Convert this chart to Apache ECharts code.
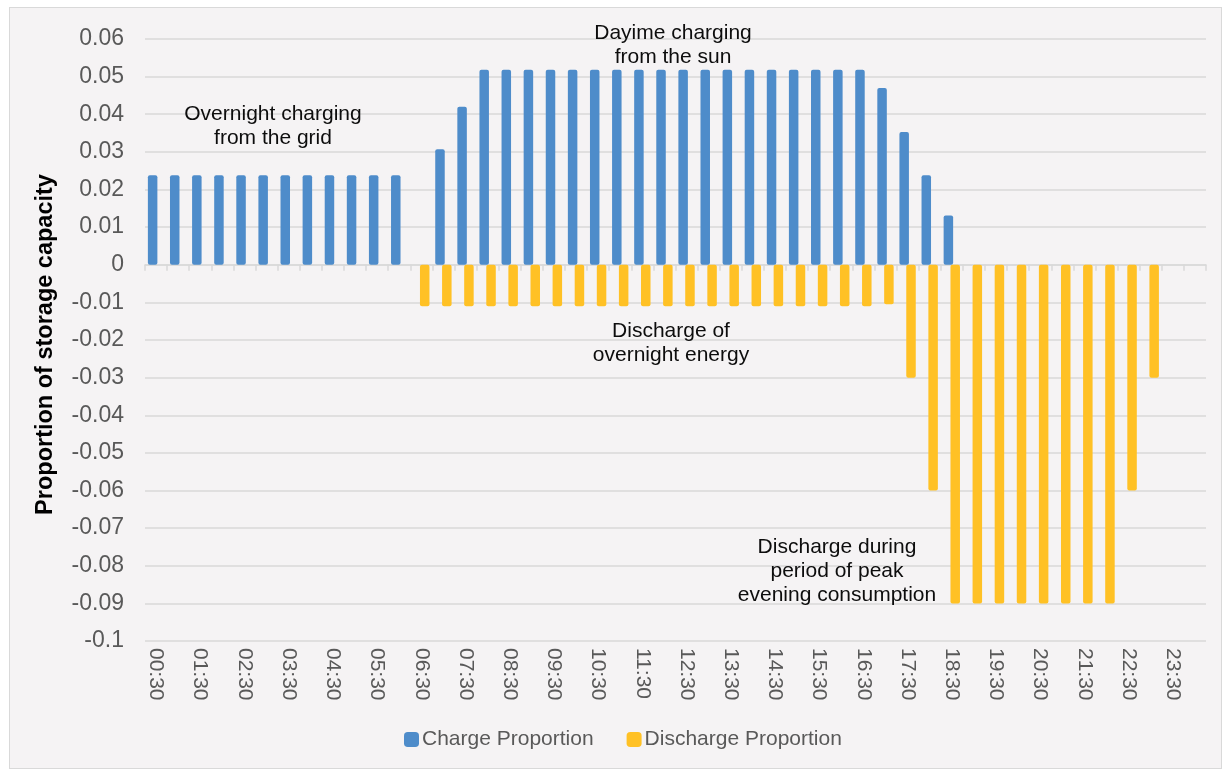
<!DOCTYPE html>
<html>
<head>
<meta charset="utf-8">
<script src="https://cdn.jsdelivr.net/npm/echarts@6/dist/echarts.min.js"></script>
<style>
  html, body { margin: 0; padding: 0; background: #ffffff; }
  #frame {
    position: absolute; left: 9px; top: 7px; width: 1211px; height: 760px;
    border: 1px solid #d9d9d9; background: #f5f3f4;
  }
  #chart { position: absolute; left: 0; top: 0; width: 1228px; height: 771px; }
</style>
</head>
<body>
<div id="frame"></div>
<div id="chart"></div>
<script>
// half-hour slots, 00:30 ... 24:00
const times = [
  "00:30", "01:00", "01:30", "02:00", "02:30", "03:00", "03:30", "04:00",
  "04:30", "05:00", "05:30", "06:00", "06:30", "07:00", "07:30", "08:00",
  "08:30", "09:00", "09:30", "10:00", "10:30", "11:00", "11:30", "12:00",
  "12:30", "13:00", "13:30", "14:00", "14:30", "15:00", "15:30", "16:00",
  "16:30", "17:00", "17:30", "18:00", "18:30", "19:00", "19:30", "20:00",
  "20:30", "21:00", "21:30", "22:00", "22:30", "23:00", "23:30", "24:00"
];

const chargeProportion = [
  0.0238, 0.0238, 0.0238, 0.0238, 0.0238, 0.0238, 0.0238, 0.0238,
  0.0238, 0.0238, 0.0238, 0.0238, 0, 0.0307, 0.042, 0.0518,
  0.0518, 0.0518, 0.0518, 0.0518, 0.0518, 0.0518, 0.0518, 0.0518,
  0.0518, 0.0518, 0.0518, 0.0518, 0.0518, 0.0518, 0.0518, 0.0518,
  0.0518, 0.047, 0.0353, 0.0238, 0.0131, 0, 0, 0,
  0, 0, 0, 0, 0, 0, 0, 0
];

const dischargeProportion = [
  0, 0, 0, 0, 0, 0, 0, 0,
  0, 0, 0, 0, -0.011, -0.011, -0.011, -0.011,
  -0.011, -0.011, -0.011, -0.011, -0.011, -0.011, -0.011, -0.011,
  -0.011, -0.011, -0.011, -0.011, -0.011, -0.011, -0.011, -0.011,
  -0.011, -0.0105, -0.03, -0.06, -0.09, -0.09, -0.09, -0.09,
  -0.09, -0.09, -0.09, -0.09, -0.06, -0.03, 0, 0
];

const seriesNames = ["Charge Proportion", "Discharge Proportion"];
const colors = ["#4e8cca", "#ffc125"];

const notes = [
  { text: "Overnight charging\nfrom the grid", x: 273, y: 102 },
  { text: "Dayime charging\nfrom the sun", x: 673, y: 21 },
  { text: "Discharge of\novernight energy", x: 671, y: 319 },
  { text: "Discharge during\nperiod of peak\nevening consumption", x: 837, y: 535 }
];

const font = "'Liberation Sans', Arial, sans-serif";

const myChart = echarts.init(document.getElementById("chart"));

const option = {
  animation: false,
  textStyle: { fontFamily: font },
  grid: { left: 145, right: 22, top: 39, bottom: 130 },
  legend: {
    top: 724,
    left: 399,
    itemWidth: 15,
    itemHeight: 15,
    itemGap: 33,
    icon: "roundRect",
    textStyle: { color: "#595959", fontSize: 21, fontFamily: font, padding: [0, 0, 0, -2] },
    data: seriesNames
  },
  xAxis: [
    {
      type: "category",
      data: times,
      axisLine: { onZero: true, lineStyle: { color: "#d9d9d9", width: 1.5 } },
      axisTick: { show: true, interval: 0, length: 6, lineStyle: { color: "#d9d9d9", width: 1.5 } },
      axisLabel: { show: false }
    },
    {
      type: "category",
      data: times,
      position: "bottom",
      axisLine: { show: false },
      axisTick: { show: false },
      axisLabel: {
        interval: 1,
        rotate: -90,
        margin: 7,
        color: "#595959",
        fontSize: 21,
        fontFamily: font
      }
    }
  ],
  yAxis: {
    type: "value",
    min: -0.1,
    max: 0.06,
    interval: 0.01,
    name: "Proportion of storage capacity",
    nameLocation: "middle",
    nameGap: 87,
    nameTextStyle: {
      color: "#000000", fontSize: 23.5, fontWeight: "bold", fontFamily: font,
      padding: [0, 9, 0, 0]
    },
    axisLine: { show: false },
    axisTick: { show: false },
    axisLabel: {
      margin: 21,
      color: "#595959",
      fontSize: 23,
      fontFamily: font,
      formatter: function (v) { return String(Math.round(v * 100) / 100); }
    },
    splitLine: { lineStyle: { color: "#d9d9d9", width: 1.5 } }
  },
  series: [
    {
      name: seriesNames[0],
      type: "bar",
      xAxisIndex: 0,
      barWidth: 9.5,
      barGap: "-28%",
      itemStyle: { color: colors[0], borderRadius: 2 },
      data: chargeProportion
    },
    {
      name: seriesNames[1],
      type: "bar",
      xAxisIndex: 0,
      barWidth: 9.5,
      barGap: "-28%",
      itemStyle: { color: colors[1], borderRadius: 2 },
      data: dischargeProportion
    }
  ],
  graphic: notes.map(function (n) {
    return {
      type: "text",
      x: n.x,
      y: n.y,
      z: 100,
      style: {
        text: n.text,
        fill: "#0d0d0d",
        font: "21px " + font,
        align: "center",
        verticalAlign: "top",
        lineHeight: 24
      }
    };
  })
};

myChart.setOption(option);
</script>
</body>
</html>
